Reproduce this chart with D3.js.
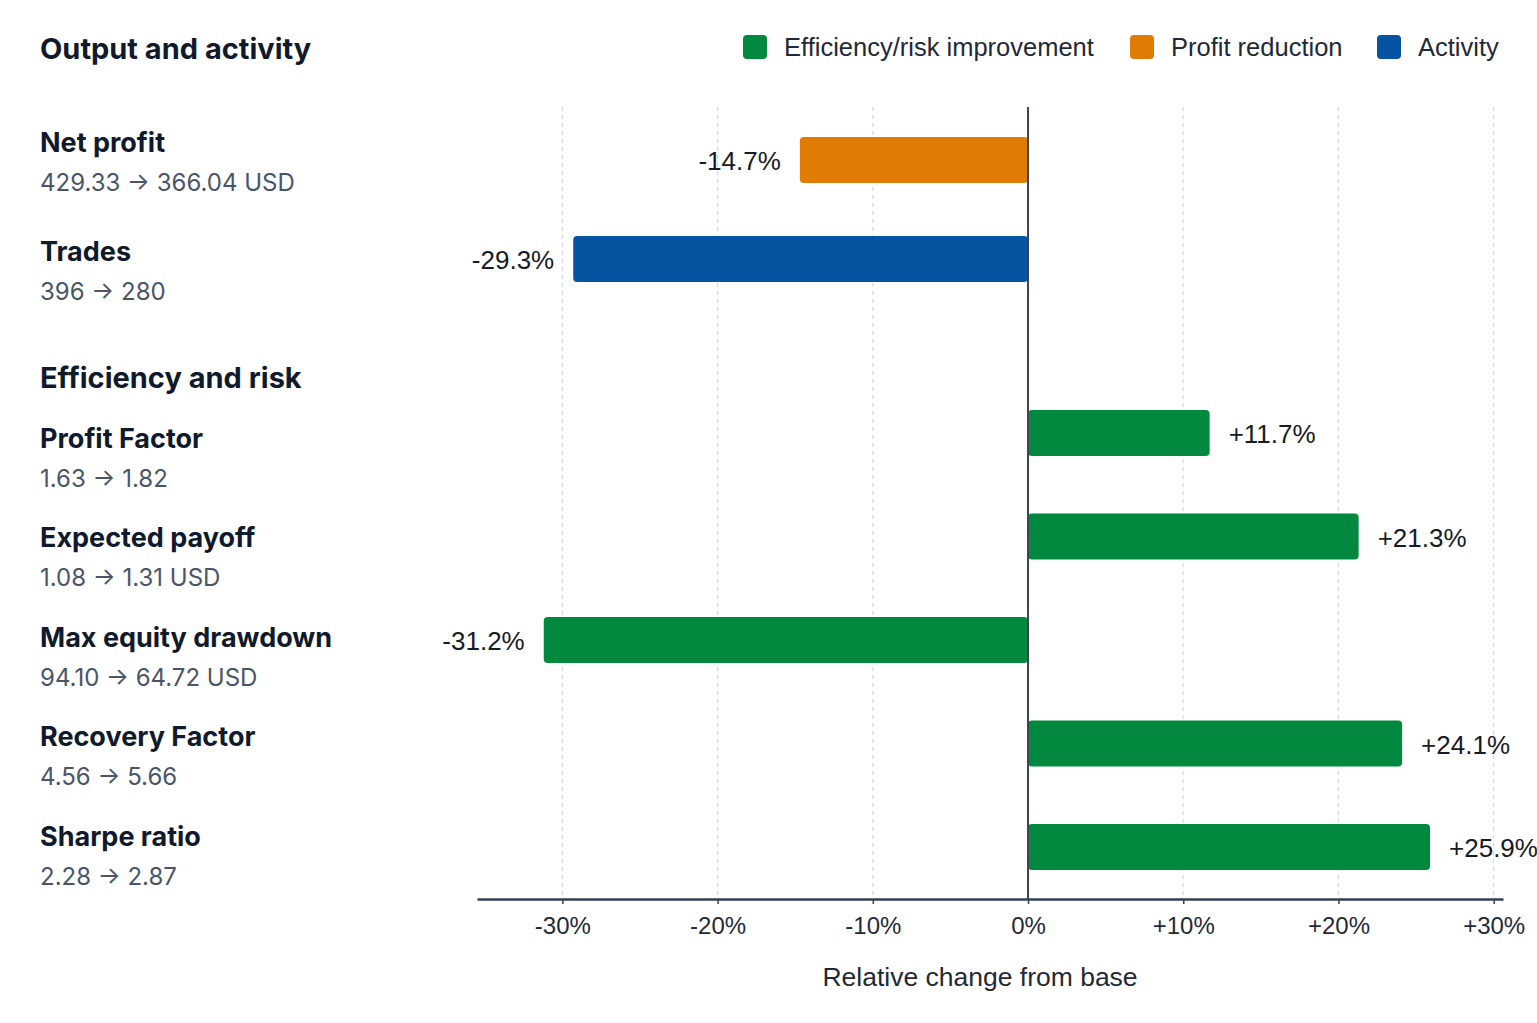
<!DOCTYPE html>
<html>
<head>
<meta charset="utf-8">
<script src="https://cdn.jsdelivr.net/npm/d3@7"></script>
<style>
  html, body { margin: 0; padding: 0; background: #ffffff; }
  svg { display: block; }
</style>
</head>
<body>
<svg id="chart"></svg>
<script>
// data
const groups = ['Output and activity', 'Efficiency and risk'];
const metrics = ['Net profit', 'Trades', 'Profit Factor', 'Expected payoff', 'Max equity drawdown', 'Recovery Factor', 'Sharpe ratio'];
const metricGroup = [0, 0, 1, 1, 1, 1, 1];
const baseValues = ['429.33', '396', '1.63', '1.08', '94.10', '4.56', '2.28'];
const newValues = ['366.04', '280', '1.82', '1.31', '64.72', '5.66', '2.87'];
const units = ['USD', '', '', 'USD', 'USD', '', ''];
const changes = [-14.7, -29.3, 11.7, 21.3, -31.2, 24.1, 25.9];
const kinds = ['profit', 'activity', 'efficiency', 'efficiency', 'efficiency', 'efficiency', 'efficiency'];
const legendKinds = ['efficiency', 'profit', 'activity'];
const legendLabels = ['Efficiency/risk improvement', 'Profit reduction', 'Activity'];
const tickValues = [-30, -20, -10, 0, 10, 20, 30];

const width = 1537;
const height = 1023;
const colors = { efficiency: '#02893f', profit: '#e07b05', activity: '#0653a1' };
const textDark = '#111a2c';
const textGray = '#4a5568';
const sansUI = "Inter, 'Noto Sans', sans-serif";
const sansPlain = "'Liberation Sans', Arial, sans-serif";

const svg = d3.select('#chart').attr('width', width).attr('height', height);

const x = d3.scaleLinear().domain([-35.5, 30.6]).range([477, 1503]);
const plotTop = 107;
const plotBottom = 899;
const barHeight = 46;

// per group: first bar centre / step, first label centre / step
const barBase = [160, 433];
const barStep = [99, 103.5];
const labelBase = [142, 438];
const labelStep = [109, 99.5];

const indexInGroup = (i) => i - metricGroup.indexOf(metricGroup[i]);
const barY = (i) => barBase[metricGroup[i]] + indexInGroup(i) * barStep[metricGroup[i]];
const labelY = (i) => labelBase[metricGroup[i]] + indexInGroup(i) * labelStep[metricGroup[i]];

const rows = metrics.map((name, i) => ({
  name,
  change: changes[i],
  kind: kinds[i],
  sub: `${baseValues[i]} \u2192 ${newValues[i]}${units[i] ? ' ' + units[i] : ''}`,
  y: barY(i),
  ly: labelY(i),
}));

// group headers (first one doubles as the chart title)
svg.selectAll('.group-title')
  .data(groups)
  .join('text')
  .attr('class', 'group-title')
  .attr('x', 40)
  .attr('y', (g, gi) => gi === 0 ? 48 : labelY(metricGroup.indexOf(gi)) - 61)
  .attr('dominant-baseline', 'central')
  .attr('font-family', sansUI)
  .attr('font-weight', 700)
  .attr('font-size', 29)
  .attr('fill', textDark)
  .text((g) => g);

// legend
const legendX = [743, 1130, 1377];
const legend = svg.selectAll('.legend-item')
  .data(legendKinds)
  .join('g')
  .attr('class', 'legend-item')
  .attr('transform', (d, i) => `translate(${legendX[i]},47)`);

legend.append('rect')
  .attr('x', 0).attr('y', -12)
  .attr('width', 24).attr('height', 24)
  .attr('rx', 4)
  .attr('fill', (d) => colors[d]);

legend.append('text')
  .attr('x', 41)
  .attr('dominant-baseline', 'central')
  .attr('font-family', sansPlain)
  .attr('font-size', 25.5)
  .attr('fill', '#1f2937')
  .text((d, i) => legendLabels[i]);

// grid
svg.append('g')
  .selectAll('line')
  .data(tickValues.filter((t) => t !== 0))
  .join('line')
  .attr('x1', (d) => x(d)).attr('x2', (d) => x(d))
  .attr('y1', plotTop).attr('y2', plotBottom)
  .attr('stroke', '#cfd4dc')
  .attr('stroke-width', 1)
  .attr('stroke-dasharray', '4,4');

// row labels
const labels = svg.append('g').selectAll('g')
  .data(rows)
  .join('g')
  .attr('transform', (d) => `translate(40,${d.ly})`);

labels.append('text')
  .attr('dominant-baseline', 'central')
  .attr('font-family', sansUI)
  .attr('font-weight', 700)
  .attr('font-size', 27)
  .attr('fill', textDark)
  .text((d) => d.name);

labels.append('text')
  .attr('y', 40)
  .attr('dominant-baseline', 'central')
  .attr('font-family', sansUI)
  .attr('font-size', 24)
  .attr('fill', textGray)
  .text((d) => d.sub);

// bars
svg.append('g').selectAll('rect')
  .data(rows)
  .join('rect')
  .attr('x', (d) => Math.min(x(0), x(d.change)))
  .attr('y', (d) => d.y - barHeight / 2)
  .attr('width', (d) => Math.abs(x(d.change) - x(0)))
  .attr('height', barHeight)
  .attr('rx', 4)
  .attr('fill', (d) => colors[d.kind]);

// value labels
const fmtPct = (v) => (v > 0 ? '+' : '') + v.toFixed(1) + '%';
svg.append('g').selectAll('text')
  .data(rows)
  .join('text')
  .attr('x', (d) => d.change < 0 ? x(d.change) - 19 : x(d.change) + 19)
  .attr('y', (d) => d.y + 1)
  .attr('text-anchor', (d) => d.change < 0 ? 'end' : 'start')
  .attr('dominant-baseline', 'central')
  .attr('font-family', sansPlain)
  .attr('font-size', 26)
  .attr('fill', '#161b26')
  .text((d) => fmtPct(d.change));

// zero line
svg.append('line')
  .attr('x1', x(0)).attr('x2', x(0))
  .attr('y1', plotTop).attr('y2', plotBottom)
  .attr('stroke', '#3b4252')
  .attr('stroke-width', 2);

// x axis
const axis = svg.append('g')
  .attr('transform', `translate(0,${plotBottom})`)
  .call(d3.axisBottom(x)
    .tickValues(tickValues)
    .tickSize(5)
    .tickSizeOuter(0)
    .tickPadding(13)
    .tickFormat((d) => (d > 0 ? '+' : '') + d + '%'));

axis.select('.domain')
  .attr('stroke', '#344054')
  .attr('stroke-width', 2.5);

axis.selectAll('.tick line')
  .attr('stroke', '#344054')
  .attr('stroke-width', 1.5);

axis.selectAll('.tick text')
  .attr('font-family', sansPlain)
  .attr('font-size', 24)
  .attr('fill', '#1f2937');

svg.append('text')
  .attr('x', 980)
  .attr('y', 977)
  .attr('text-anchor', 'middle')
  .attr('dominant-baseline', 'central')
  .attr('font-family', sansPlain)
  .attr('font-size', 26.5)
  .attr('fill', '#1f2937')
  .text('Relative change from base');
</script>
</body>
</html>
